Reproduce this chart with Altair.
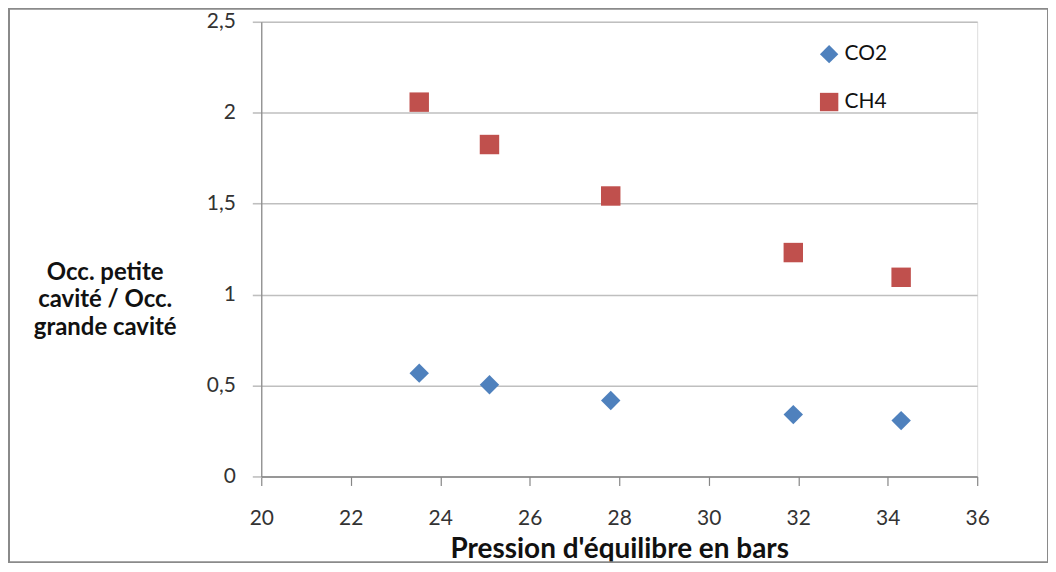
import altair as alt
import pandas as pd

# Data
pressure = [23.53, 25.10, 27.81, 31.89, 34.30]
co2_ratio = [0.568, 0.504, 0.418, 0.34, 0.307]
ch4_ratio = [2.058, 1.825, 1.542, 1.231, 1.095]
series = ["CO2", "CH4"]
x_ticks = [20, 22, 24, 26, 28, 30, 32, 34, 36]
y_ticks = [0, 0.5, 1, 1.5, 2, 2.5]

rows = []
for p, v in zip(pressure, co2_ratio):
    rows.append({"Pression": p, "Ratio": v, "Gaz": "CO2"})
for p, v in zip(pressure, ch4_ratio):
    rows.append({"Pression": p, "Ratio": v, "Gaz": "CH4"})
df = pd.DataFrame(rows)

FONT = "Lato"
W, H = 718, 456

frame = alt.Chart(pd.DataFrame({"k": [0]})).mark_rect(
    fill="transparent", stroke="#8a8a8a", strokeWidth=2
).encode(
    x=alt.value(-253), x2=alt.value(789),
    y=alt.value(-13), y2=alt.value(542),
)

legend_cfg = dict(title=None, orient="none", legendX=559, legendY=22,
                  labelFont=FONT, labelFontSize=21, labelColor="#111111",
                  rowPadding=26, symbolSize=340, labelOffset=5,
                  symbolStrokeWidth=0)

points = alt.Chart(df).mark_point(filled=True, opacity=1, size=380).encode(
    x=alt.X("Pression:Q",
            scale=alt.Scale(domain=[20, 36], nice=False, zero=False),
            axis=alt.Axis(values=x_ticks, title="Pression d'équilibre en bars",
                          grid=False, domainColor="#868686", tickColor="#868686",
                          tickSize=9, domainWidth=1.5, tickWidth=1.2,
                          labelFontSize=21, labelColor="#333333", labelPadding=22,
                          labelFlush=False,
                          labelFont=FONT, titleFont=FONT, titleFontSize=28,
                          titleFontWeight="bold", titleColor="#111111",
                          titleBaseline="alphabetic", titleY=81)),
    y=alt.Y("Ratio:Q",
            scale=alt.Scale(domain=[0, 2.5], nice=False),
            axis=alt.Axis(values=y_ticks,
                          labelExpr="replace(format(datum.value, '.1~f'), '.', ',')",
                          title=["Occ. petite", "cavité / Occ.", "grande cavité"],
                          titleAngle=0, titleAlign="center", titleBaseline="middle",
                          titleX=-157, titleY=251, titleLineHeight=28,
                          titleFont=FONT, titleFontSize=24, titleFontWeight="bold",
                          titleColor="#111111",
                          grid=True, gridColor="#BFBFBF", gridWidth=1.6,
                          domainColor="#868686", tickColor="#BFBFBF", tickSize=9,
                          domainWidth=1.2, tickWidth=1.6, labelFlush=False,
                          labelFontSize=21, labelColor="#333333", labelPadding=17,
                          labelFont=FONT)),
    color=alt.Color("Gaz:N",
                    scale=alt.Scale(domain=series, range=["#4F81BD", "#C0504D"]),
                    legend=alt.Legend(**legend_cfg)),
    shape=alt.Shape("Gaz:N",
                    scale=alt.Scale(domain=series, range=["diamond", "square"]),
                    legend=alt.Legend(**legend_cfg)),
)

chart = alt.layer(frame, points).properties(
    width=W, height=H,
    autosize=alt.AutoSizeParams(type="none"),
    padding={"left": 254, "top": 13, "right": 71, "bottom": 86},
).configure_view(stroke=None).configure(background="white")

chart.save("out.html", embed_options={"renderer": "svg", "actions": False})
